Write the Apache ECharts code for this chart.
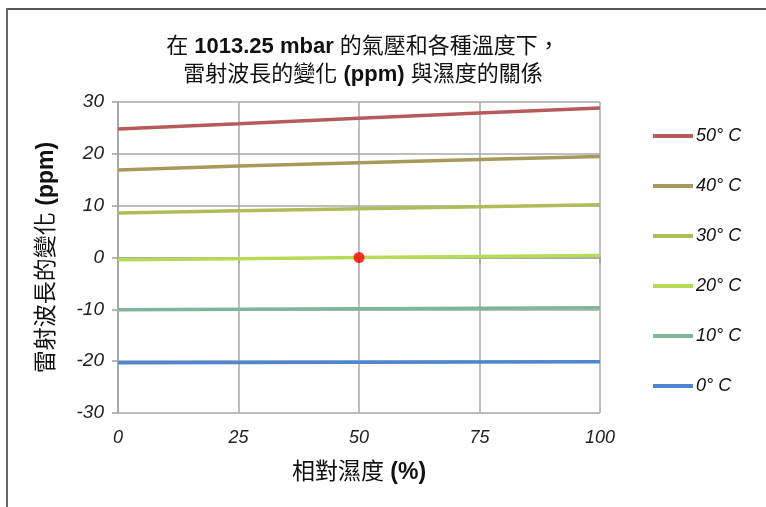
<!DOCTYPE html>
<html>
<head>
<meta charset="utf-8">
<script src="https://cdn.jsdelivr.net/npm/echarts@6/dist/echarts.min.js"></script>
<style>html,body{margin:0;padding:0;background:#fff;}#c{width:766px;height:507px;}</style>
</head>
<body>
<div id="c"></div>
<script>
const humidity = [0, 25, 50, 75, 100];
const seriesNames = ['50° C', '40° C', '30° C', '20° C', '10° C', '0° C'];
const s50 = [24.8, 25.8, 26.85, 27.9, 28.85];
const s40 = [16.9, 17.65, 18.3, 18.9, 19.5];
const s30 = [8.6, 9.0, 9.4, 9.8, 10.2];
const s20 = [-0.45, -0.25, 0, 0.2, 0.4];
const s10 = [-10.1, -10.0, -9.9, -9.8, -9.7];
const s0 = [-20.3, -20.25, -20.2, -20.15, -20.1];
const refPoint = [50, 0];
const xTicks = [0, 25, 50, 75, 100];
const yTicks = [-30, -20, -10, 0, 10, 20, 30];

const colors = ['#b65b5b', '#a99858', '#afbc59', '#b7db56', '#7db69a', '#4c87d1'];
const values = [s50, s40, s30, s20, s10, s0];
const FONT = '"Liberation Sans", "Noto Sans CJK TC", sans-serif';

const series = seriesNames.map((n, i) => ({
  name: n,
  type: 'line',
  data: humidity.map((h, j) => [h, values[i][j]]),
  showSymbol: false,
  symbol: 'none',
  lineStyle: { color: colors[i], width: 3.5 },
  itemStyle: { color: colors[i] },
  z: 3
}));
series.push({
  name: 'ref',
  type: 'scatter',
  data: [refPoint],
  symbolSize: 11,
  itemStyle: { color: '#ff0000' },
  z: 5
});

const chart = echarts.init(document.getElementById('c'), null, { renderer: 'canvas' });
chart.setOption({
  animation: false,
  backgroundColor: '#fff',
  textStyle: { fontFamily: FONT },
  title: {
    left: 358, top: 28, textAlign: 'center',
    text: '在 {b|1013.25 mbar} 的氣壓和各種溫度下，\n雷射波長的變化 {b|(ppm)} 與濕度的關係',
    textStyle: {
      fontFamily: FONT, fontSize: 22, fontWeight: 'normal', color: '#111', lineHeight: 28,
      rich: { b: { fontFamily: FONT, fontSize: 22, fontWeight: 'bold', color: '#111', lineHeight: 28 } }
    }
  },
  grid: { left: 118, right: 166, top: 102, bottom: 94 },
  legend: {
    orient: 'vertical', left: 648, top: 121,
    data: seriesNames,
    icon: 'path://M0,0 L40,0 L40,4 L0,4 Z',
    itemWidth: 40, itemHeight: 4, itemGap: 30,
    textStyle: { fontFamily: FONT, fontSize: 18, fontStyle: 'italic', color: '#111', lineHeight: 20, padding: [0, 0, 0, -2] }
  },
  xAxis: {
    type: 'value', min: 0, max: 100, interval: 25,
    name: '相對濕度 {b|(%)}', nameLocation: 'middle', nameGap: 48,
    nameTextStyle: { fontFamily: FONT, fontSize: 23, color: '#111',
      rich: { b: { fontFamily: FONT, fontSize: 23, fontWeight: 'bold', color: '#111' } } },
    axisLine: { show: true, lineStyle: { color: '#a0a0a0', width: 1.5 } },
    axisTick: { show: true, length: 6, lineStyle: { color: '#a0a0a0', width: 1.5 } },
    splitLine: { show: true, lineStyle: { color: '#a8a8a8', width: 1.5 } },
    axisLabel: { fontFamily: FONT, fontSize: 18, fontStyle: 'italic', color: '#222', margin: 16,
      formatter: v => xTicks.includes(v) ? String(v) : '' }
  },
  yAxis: {
    type: 'value', min: -30, max: 30, interval: 10,
    name: '雷射波長的變化 {b|(ppm)}', nameLocation: 'middle', nameGap: 60, nameRotate: 90,
    nameTextStyle: { fontFamily: FONT, fontSize: 23, color: '#111',
      rich: { b: { fontFamily: FONT, fontSize: 23, fontWeight: 'bold', color: '#111' } } },
    axisLine: { show: true, lineStyle: { color: '#a0a0a0', width: 1.5 } },
    axisTick: { show: true, length: 6, lineStyle: { color: '#a0a0a0', width: 1.5 } },
    splitLine: { show: true, lineStyle: { color: '#a8a8a8', width: 1.5 } },
    axisLabel: { fontFamily: FONT, fontSize: 19, fontStyle: 'italic', color: '#222', margin: 14,
      formatter: v => yTicks.includes(v) ? String(v) : '' }
  },
  graphic: [
    { type: 'line', shape: { x1: 6, y1: 9, x2: 766, y2: 9 }, style: { stroke: '#555', lineWidth: 2 } },
    { type: 'line', shape: { x1: 7, y1: 8, x2: 7, y2: 507 }, style: { stroke: '#666', lineWidth: 2 } }
  ],
  series: series
});
</script>
</body>
</html>
